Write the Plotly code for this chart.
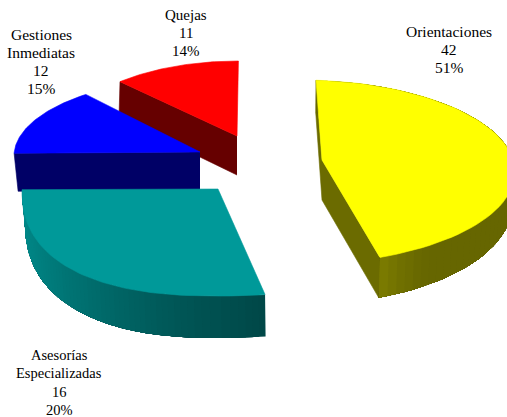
import numpy as np
import plotly.graph_objects as go

# ---- data ----
categories = ["Orientaciones", "Asesorías<br>Especializadas", "Gestiones<br>Inmediatas", "Quejas"]
values = [42, 16, 12, 11]
percents = ["51%", "20%", "15%", "14%"]

# ---- style / geometry of the projected slices (drawn in page-pixel axes) ----
top_color = ["#FFFF00", "#009999", "#0000FF", "#FF0000"]
wall_color = ["#6B6B00", "#008B8B", "#000066", "#660000"]
outer_stops = [["#666600"] * 26 + ["#696900", "#707000", "#7A7A00"],
               ["#004848", "#005C5C", "#007070", "#008080", "#008C8C"], None, None]
start_deg = [4.27, 169.6, -88.0, -42.4]
sweep_warp = [0.8245, 1.41, 0.94, 0.87]
# cx, cy, a, b_up, b_down, exponent
top_ellipse = [(300, 172, 215, 92, 92, 2.0), (218, 189, 196, 107, 107, 2.4),
               (200, 156, 186, 78, 78, 2.0), (238, 140, 175, 79, 79, 2.0)]
bot_ellipse = [(300, 205, 212, 92, 100, 2.0), (219, 220, 194, 118, 118, 2.4),
               (202, 194, 184, 78, 78, 2.0), (237, 176, 175, 79, 79, 2.0)]
apex = [(322, 160), (218, 189), (200, 152), (237, 136)]
depth = [40, 42, 38, 39]
show_start_wall = [True, False, True, True]
show_end_wall = [True, False, False, False]
show_outer = [True, True, False, False]
draw_order = [3, 2, 1, 0]
label_x = [449, 59, 41, 186]
label_first_y = [31, 355, 34, 15]
label_pitch = [18, 18.3, 18, 18]
label_size = [15.5, 14.5, 15.5, 15]


def arc(params, deg):
    cx, cy, a, bu, bd, n = params
    t = np.radians(deg)
    s, c = np.sin(t), np.cos(t)
    x = cx + a * np.sign(s) * np.abs(s) ** (2 / n)
    y = cy - np.where(c > 0, bu, bd) * np.sign(c) * np.abs(c) ** (2 / n)
    return x, y


def poly(fig, xs, ys, color, lw=0.6):
    fig.add_trace(go.Scatter(x=list(xs), y=list(ys), mode="lines", fill="toself",
                             fillcolor=color, line=dict(color=color, width=lw),
                             hoverinfo="skip", showlegend=False))


def mix(stops, f):
    rgb = np.array([[int(h[i:i + 2], 16) for i in (1, 3, 5)] for h in stops], float)
    p = f * (len(stops) - 1)
    i = min(int(p), len(stops) - 2)
    v = rgb[i] + (rgb[i + 1] - rgb[i]) * (p - i)
    return "rgb(%d,%d,%d)" % tuple(v)


fig = go.Figure()
total = sum(values)
for k in draw_order:
    sweep = 360 * values[k] / total * sweep_warp[k]
    deg = np.linspace(start_deg[k], start_deg[k] + sweep, 61)
    tx, ty = arc(top_ellipse[k], deg)
    bx, by = arc(bot_ellipse[k], deg)
    ax, ay = apex[k]
    ay2 = ay + depth[k]
    if show_start_wall[k]:
        poly(fig, [ax, tx[0], bx[0], ax], [ay, ty[0], by[0], ay2], wall_color[k])
    if show_end_wall[k]:
        poly(fig, [ax, tx[-1], bx[-1], ax], [ay, ty[-1], by[-1], ay2], wall_color[k])
    if show_outer[k]:
        # painter's bands: each band runs to the far end, the next one overpaints it
        for i in range(0, len(deg) - 1):
            col = mix(outer_stops[k], i / (len(deg) - 2))
            poly(fig, [*tx[i:], *bx[i:][::-1]], [*ty[i:], *by[i:][::-1]], col, lw=0)
    poly(fig, [ax, *tx, ax], [ay, *ty, ay], top_color[k])

for k, name in enumerate(categories):
    lines = name.split("<br>") + [str(values[k]), percents[k]]
    for j, line in enumerate(lines):
        fig.add_annotation(x=label_x[k], y=label_first_y[k] + j * label_pitch[k],
                           xref="x", yref="y", showarrow=False, text=line, align="center",
                           font=dict(family="Liberation Serif", size=label_size[k], color="#000000"))

fig.update_xaxes(visible=False, range=[0, 507], fixedrange=True)
fig.update_yaxes(visible=False, range=[417, 0], fixedrange=True)
fig.update_layout(width=507, height=417, margin=dict(l=0, r=0, t=0, b=0),
                  paper_bgcolor="white", plot_bgcolor="white", showlegend=False)
fig.write_html("out.html", config={"displayModeBar": False},
               post_script="document.body.style.margin='0';")
